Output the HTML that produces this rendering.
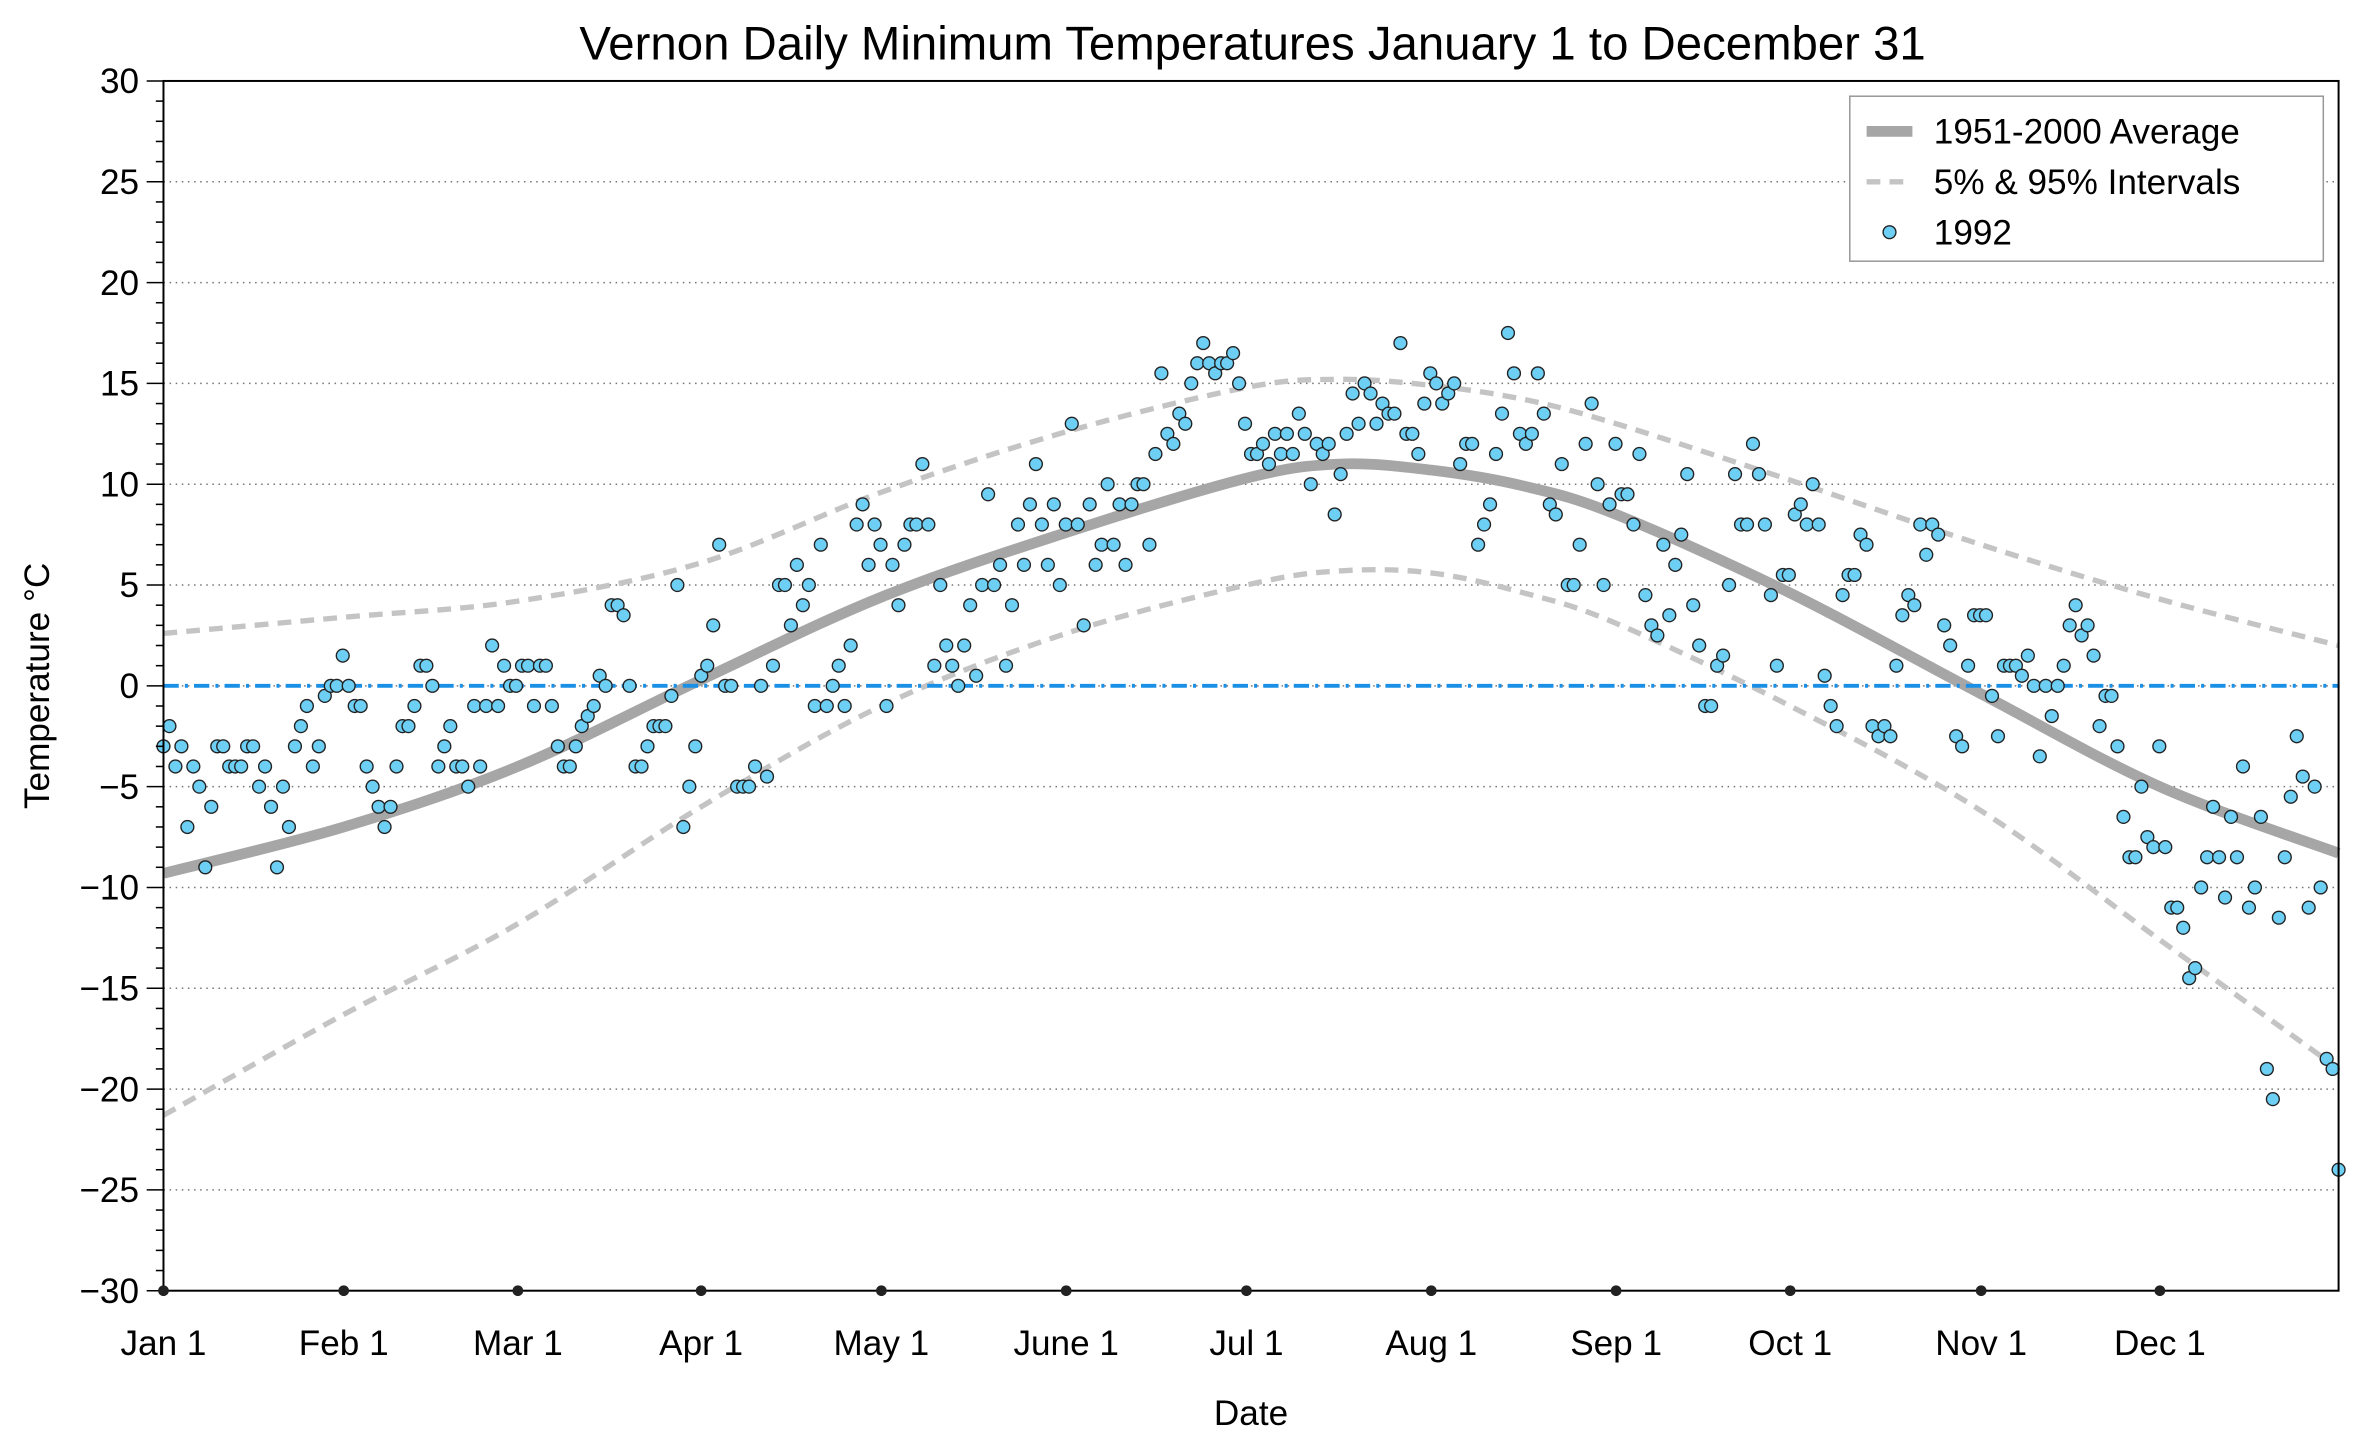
<!DOCTYPE html>
<html><head><meta charset="utf-8"><style>
html,body{margin:0;padding:0;background:#fff}
svg{display:block}
text{font-family:"Liberation Sans",Arial,sans-serif;fill:#000}
</style></head><body>
<svg id="s" width="2360" height="1432" viewBox="0 0 1545 937.5" xmlns="http://www.w3.org/2000/svg">
<rect width="1545" height="937.5" fill="#fff"/>
<text x="820" y="39" font-size="31" text-anchor="middle">Vernon Daily Minimum Temperatures January 1 to December 31</text>
<g id="grid"></g>
<g id="curves"></g>
<line x1="107" y1="449" x2="1531" y2="449" stroke="#1a8fe6" stroke-width="2.5" stroke-dasharray="10,4,2,4"/>
<g id="pts"></g>
<rect x="107" y="53" width="1424" height="792" fill="none" stroke="#000" stroke-width="1.3"/>
<g id="axes"></g>
<text x="819" y="933" font-size="23" text-anchor="middle">Date</text>
<text transform="translate(32,449) rotate(-90)" font-size="23" text-anchor="middle">Temperature °C</text>
<rect x="1211" y="63" width="310" height="108" fill="#fff" stroke="#999" stroke-width="1"/>
<line x1="1222" y1="86" x2="1252" y2="86" stroke="#a6a6a6" stroke-width="7"/>
<text x="1266" y="94" font-size="23">1951-2000 Average</text>
<line x1="1222" y1="119" x2="1252" y2="119" stroke="#c4c4c4" stroke-width="3.5" stroke-dasharray="9,6"/>
<text x="1266" y="127" font-size="23">5% &amp; 95% Intervals</text>
<circle cx="1237" cy="152" r="4.2" fill="#6dcff4" stroke="#222" stroke-width="0.9"/>
<text x="1266" y="160" font-size="23">1992</text>
</svg>
<script>
const NS="http://www.w3.org/2000/svg";
function el(p,t,a){const e=document.createElementNS(NS,t);for(const k in a)e.setAttribute(k,a[k]);p.appendChild(e);return e;}
const Y=t=>53+(30-t)*13.2;
const mx=[107,225,339,459,577,698,816,937,1058,1172,1297,1414,1531];
const grid=document.getElementById('grid'),ax=document.getElementById('axes');
for(let t=-25;t<=25;t+=5){el(grid,'line',{x1:107,x2:1531,y1:Y(t),y2:Y(t),stroke:'#777','stroke-width':1,'stroke-dasharray':'1,3'});}
for(let t=-30;t<=30;t++){const maj=t%5==0;el(ax,'line',{x1:maj?96:102,x2:107,y1:Y(t),y2:Y(t),stroke:'#000','stroke-width':1});
 if(maj){const tx=el(ax,'text',{x:91,y:Y(t)+8,'font-size':23,'text-anchor':'end'});tx.textContent=(t<0?'\u2212'+(-t):t);}}
const ml=['Jan 1','Feb 1','Mar 1','Apr 1','May 1','June 1','Jul 1','Aug 1','Sep 1','Oct 1','Nov 1','Dec 1'];
for(let i=0;i<12;i++){el(ax,'circle',{cx:mx[i],cy:845,r:3.5,fill:'#222'});const tx=el(ax,'text',{x:mx[i],y:887,'font-size':23,'text-anchor':'middle'});tx.textContent=ml[i];}
function curve(v,attrs){
 let pts=v.map(a=>[a[0],Y(a[1])]);let d='M'+pts[0][0]+','+pts[0][1];
 for(let i=0;i<pts.length-1;i++){const p0=pts[Math.max(0,i-1)],p1=pts[i],p2=pts[i+1],p3=pts[Math.min(pts.length-1,i+2)];
  d+=' C'+(p1[0]+(p2[0]-p0[0])/6)+','+(p1[1]+(p2[1]-p0[1])/6)+' '+(p2[0]-(p3[0]-p1[0])/6)+','+(p2[1]-(p3[1]-p1[1])/6)+' '+p2[0]+','+p2[1];}
 attrs.d=d;attrs.fill='none';el(document.getElementById('curves'),'path',attrs);}
curve([[107,-9.3],[225,-7],[339,-4],[459,0.3],[577,4.4],[698,7.6],[816,10.3],[877,11],[937,10.7],[998,9.9],[1058,8.5],[1172,4.6],[1297,-0.4],[1414,-5],[1531,-8.3]],{stroke:'#a6a6a6','stroke-width':7});
curve([[107,2.6],[225,3.4],[339,4.2],[459,6.1],[577,9.6],[698,12.6],[816,14.8],[877,15.2],[937,14.9],[998,14.2],[1058,13],[1172,10.2],[1297,7],[1414,4.3],[1531,2]],{stroke:'#c4c4c4','stroke-width':3.5,'stroke-dasharray':'9,6'});
curve([[107,-21.3],[225,-16.3],[339,-11.8],[459,-6],[577,-1],[698,2.6],[816,5],[877,5.7],[937,5.6],[998,4.6],[1058,3.1],[1172,-1],[1297,-6.2],[1414,-12.6],[1531,-19]],{stroke:'#c4c4c4','stroke-width':3.5,'stroke-dasharray':'9,6'});
const T=[-3,-2,-4,-3,-7,-4,-5,-9,-6,-3,-3,-4,-4,-4,-3,-3,-5,-4,-6,-9,-5,-7,-3,-2,-1,-4,-3,-0.5,0,0,1.5,
0,-1,-1,-4,-5,-6,-7,-6,-4,-2,-2,-1,1,1,0,-4,-3,-2,-4,-4,-5,-1,-4,-1,2,-1,1,0,0,
1,1,-1,1,1,-1,-3,-4,-4,-3,-2,-1.5,-1,0.5,0,4,4,3.5,0,-4,-4,-3,-2,-2,-2,-0.5,5,-7,-5,-3,0.5,
1,3,7,0,0,-5,-5,-5,-4,0,-4.5,1,5,5,3,6,4,5,-1,7,-1,0,1,-1,2,8,9,6,8,7,
-1,6,4,7,8,8,11,8,1,5,2,1,0,2,4,0.5,5,9.5,5,6,1,4,8,6,9,11,8,6,9,5,8,
13,8,3,9,6,7,10,7,9,6,9,10,10,7,11.5,15.5,12.5,12,13.5,13,15,16,17,16,15.5,16,16,16.5,15,13,
11.5,11.5,12,11,12.5,11.5,12.5,11.5,13.5,12.5,10,12,11.5,12,8.5,10.5,12.5,14.5,13,15,14.5,13,14,13.5,13.5,17,12.5,12.5,11.5,14,15.5,
15,14,14.5,15,11,12,12,7,8,9,11.5,13.5,17.5,15.5,12.5,12,12.5,15.5,13.5,9,8.5,11,5,5,7,12,14,10,5,9,12,
9.5,9.5,8,11.5,4.5,3,2.5,7,3.5,6,7.5,10.5,4,2,-1,-1,1,1.5,5,10.5,8,8,12,10.5,8,4.5,1,5.5,5.5,8.5,
9,8,10,8,0.5,-1,-2,4.5,5.5,5.5,7.5,7,-2,-2.5,-2,-2.5,1,3.5,4.5,4,8,6.5,8,7.5,3,2,-2.5,-3,1,3.5,
3.5,3.5,-0.5,-2.5,1,1,1,0.5,1.5,0,-3.5,0,-1.5,0,1,3,4,2.5,3,1.5,-2,-0.5,-0.5,-3,-6.5,-8.5,-8.5,-5,-7.5,-8,
-3,-8,-11,-11,-12,-14.5,-14,-10,-8.5,-6,-8.5,-10.5,-6.5,-8.5,-4,-11,-10,-6.5,-19,-20.5,-11.5,-8.5,-5.5,-2.5,-4.5,-11,-5,-10,-18.5,-19,-24];
const pg=document.getElementById('pts');
T.forEach((t,i)=>{const x=Math.min(1531,107+i*(1531-107)/(T.length-1));el(pg,'circle',{cx:x,cy:Y(t),r:4.2,fill:'#6dcff4',stroke:'#222','stroke-width':0.9});});
</script>
</body></html>
